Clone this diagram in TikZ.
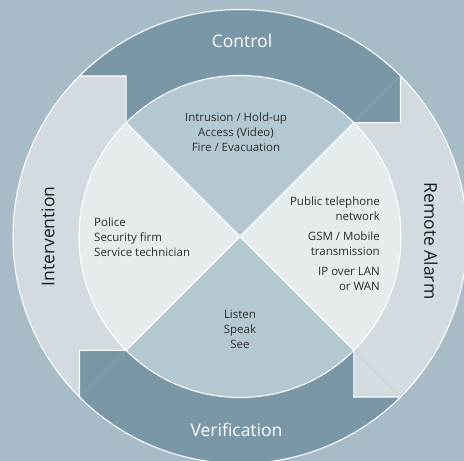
\documentclass[tikz,border=0pt]{standalone}
\usepackage{fontspec}
\setmainfont{Open Sans}
\definecolor{bgcol}{RGB}{167,188,198}
\definecolor{darkring}{RGB}{122,151,167}
\definecolor{lightring}{RGB}{211,219,224}
\definecolor{tbquad}{RGB}{180,200,209}
\definecolor{sidequad}{RGB}{230,235,238}
\definecolor{qtext}{RGB}{45,45,45}
\definecolor{ltext}{RGB}{30,30,30}
\newcommand{\rOut}{227}
\newcommand{\rIn}{161}
\begin{document}
\begin{tikzpicture}[x=1pt,y=1pt,
  wline/.style={draw=white,line width=1.1pt,line join=miter},
  qtxt/.style={text=qtext,font=\fontsize{11.5}{15}\selectfont,inner sep=0pt},
  ringlbl/.style={font=\fontsize{17.5}{20}\selectfont,inner sep=0pt,anchor=center}]
\useasboundingbox (-240,-224.5) rectangle (224,236.5);
\clip (-240,-224.5) rectangle (224,236.5);
\fill[bgcol] (-240,-224.5) rectangle (224,236.5);
% ring sectors
\fill[darkring] (45:\rOut) arc[start angle=45,end angle=135,radius=\rOut] -- (135:\rIn) arc[start angle=135,end angle=45,radius=\rIn] -- cycle;
\fill[lightring] (-45:\rOut) arc[start angle=-45,end angle=45,radius=\rOut] -- (45:\rIn) arc[start angle=45,end angle=-45,radius=\rIn] -- cycle;
\fill[darkring] (225:\rOut) arc[start angle=225,end angle=315,radius=\rOut] -- (315:\rIn) arc[start angle=315,end angle=225,radius=\rIn] -- cycle;
\fill[lightring] (135:\rOut) arc[start angle=135,end angle=225,radius=\rOut] -- (225:\rIn) arc[start angle=225,end angle=135,radius=\rIn] -- cycle;
% arrow heads (tabs)
\coordinate (tabC) at (160.5,113.8);
\coordinate (tabR) at (113.8,-160.5);
\coordinate (tabV) at (-160.5,-113.8);
\coordinate (tabI) at (-113.8,160.5);
\fill[darkring] (45:\rOut) -- (tabC) -- (45:\rIn) -- cycle;
\draw[wline] (45:\rOut) -- (tabC) -- (45:\rIn);
\fill[lightring] (-45:\rOut) -- (tabR) -- (-45:\rIn) -- cycle;
\draw[wline] (-45:\rOut) -- (tabR) -- (-45:\rIn);
\fill[darkring] (225:\rOut) -- (tabV) -- (225:\rIn) -- cycle;
\draw[wline] (225:\rOut) -- (tabV) -- (225:\rIn);
\fill[lightring] (135:\rOut) -- (tabI) -- (135:\rIn) -- cycle;
\draw[wline] (135:\rOut) -- (tabI) -- (135:\rIn);
% inner disk
\fill[sidequad] (0,0) circle[radius=\rIn];
\fill[tbquad] (0,0) -- (45:\rIn) arc[start angle=45,end angle=135,radius=\rIn] -- cycle;
\fill[tbquad] (0,0) -- (225:\rIn) arc[start angle=225,end angle=315,radius=\rIn] -- cycle;
\draw[wline] (45:\rIn) -- (225:\rIn);
\draw[wline] (135:\rIn) -- (315:\rIn);
\draw[wline] (0,0) circle[radius=\rIn];
\draw[wline] (0,0) circle[radius=\rOut];
% ring labels
\node[ringlbl,text=white] (lcontrol) at (2,196) {Control};
\node[ringlbl,text=white] (lverif) at (-3.5,-193) {Verification};
\node[ringlbl,text=ltext,rotate=-90] (lremote) at (191,-4.5) {Remote Alarm};
\node[ringlbl,text=ltext,rotate=90] (linterv) at (-192,0) {Intervention};
% quadrant texts
\node[qtxt,align=center] (qtop) at (-4,104) {Intrusion / Hold-up\\Access (Video)\\Fire / Evacuation};
\node[qtxt,align=left,anchor=west] (qleft) at (-146,-1) {Police\\Security firm\\Service technician};
\node[qtxt,align=right,anchor=east] (qright) at (140,-7) {Public telephone\\network\\[5pt]GSM / Mobile\\transmission\\[5pt]IP over LAN\\or WAN};
\node[qtxt,align=center] (qbottom) at (0,-93) {Listen\\Speak\\See};
\end{tikzpicture}
\end{document}
